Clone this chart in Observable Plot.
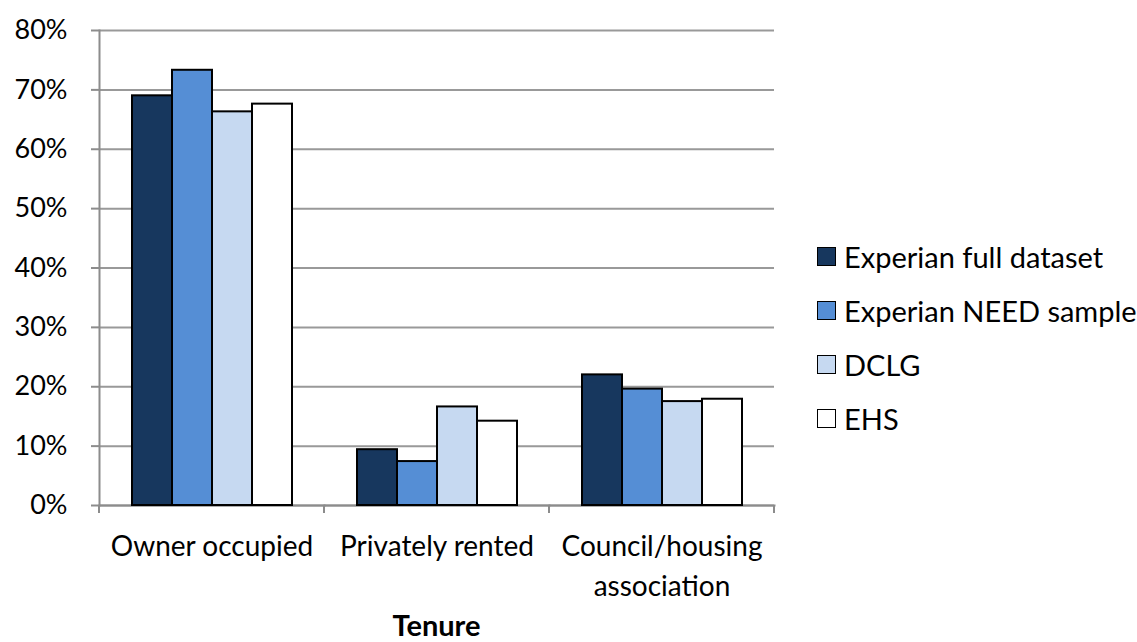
<!DOCTYPE html>
<html>
<head>
<meta charset="utf-8">
<script src="https://cdn.jsdelivr.net/npm/d3@7"></script>
<script src="https://cdn.jsdelivr.net/npm/@observablehq/plot@0.6"></script>
<style>
  html, body { margin: 0; padding: 0; background: #fff; }
  #wrap { position: relative; width: 1137px; height: 642px; font-family: Lato, "Open Sans", sans-serif; }
  #legend { position: absolute; left: 817px; top: 229px; font-size: 29px; color: #000; }
  .li { display: flex; align-items: center; height: 54px; }
  .sw { width: 17px; height: 17px; border: 1.5px solid #000; margin-right: 8px; box-sizing: content-box; }
  #xtitle { position: absolute; left: 98px; width: 677px; top: 609px; text-align: center; font-weight: bold; font-size: 29px; line-height: 32px; }
</style>
</head>
<body>
<div id="wrap">
  <div id="chart"></div>
  <div id="legend"></div>
  <div id="xtitle">Tenure</div>
</div>
<script>
const categories = ["Owner occupied", "Privately rented", "Council/housing association"];
const categoryLabels = ["Owner occupied", "Privately rented", "Council/housing\nassociation"];
const series = ["Experian full dataset", "Experian NEED sample", "DCLG", "EHS"];
const colors = ["#17375e", "#558ed5", "#c6d9f1", "#ffffff"];
const experianFull = [69.0, 9.4, 22.0];
const experianNeed = [73.3, 7.4, 19.6];
const dclg = [66.3, 16.6, 17.5];
const ehs = [67.6, 14.2, 17.9];
const yTicks = [0, 10, 20, 30, 40, 50, 60, 70, 80];

const seriesValues = [experianFull, experianNeed, dclg, ehs];
const data = [];
categories.forEach((c, i) => series.forEach((s, j) => data.push({tenure: c, series: s, value: seriesValues[j][i]})));

const plot = Plot.plot({
  width: 1137,
  height: 606,
  marginTop: 30,
  marginBottom: 101,
  marginLeft: 98,
  marginRight: 362,
  style: {fontFamily: "Lato, 'Open Sans', sans-serif", fontSize: "27px", color: "#000", background: "#fff"},
  fx: {domain: categories, padding: 0, label: null, axis: null},
  x: {domain: series, paddingInner: 0, paddingOuter: 0.75, axis: null},
  y: {domain: [0, 80], label: null},
  color: {domain: series, range: colors},
  marks: [
    Plot.gridY(yTicks, {stroke: "#999", strokeOpacity: 1, strokeWidth: 2}),
    Plot.axisY(yTicks, {tickFormat: d => d + "%", tickSize: 8, tickPadding: 24, stroke: "#8c8c8c", strokeWidth: 2, fontSize: 27, label: null}),
    Plot.frame({anchor: "left", facetAnchor: "left", stroke: "#8c8c8c", strokeWidth: 2}),
    Plot.frame({anchor: "bottom", stroke: "#8c8c8c", strokeWidth: 2}),
    Plot.barY(data, {fx: "tenure", x: "series", y: "value", fill: "series", stroke: "#000", strokeWidth: 2}),
    Plot.axisFx({anchor: "bottom", tickSize: 0, tickPadding: 23, fontSize: 28, lineHeight: 1.4, tickFormat: d => categoryLabels[categories.indexOf(d)], label: null})
  ]
});
document.getElementById("chart").appendChild(plot);

// category boundary tick marks below the baseline, derived from the fx scale
const fx = plot.scale("fx");
const y = plot.scale("y");
const y0 = y.apply(0);
const bounds = categories.map(c => fx.apply(c)).concat([fx.apply(categories[categories.length - 1]) + fx.bandwidth]);
const svg = d3.select(plot);
svg.append("g").selectAll("line").data(bounds).join("line")
  .attr("x1", d => d).attr("x2", d => d)
  .attr("y1", y0).attr("y2", y0 + 8)
  .attr("stroke", "#8c8c8c").attr("stroke-width", 2);

const legend = d3.select("#legend");
series.forEach((s, i) => {
  const row = legend.append("div").attr("class", "li");
  row.append("div").attr("class", "sw").style("background", colors[i]);
  row.append("span").text(s);
});
</script>
</body>
</html>
